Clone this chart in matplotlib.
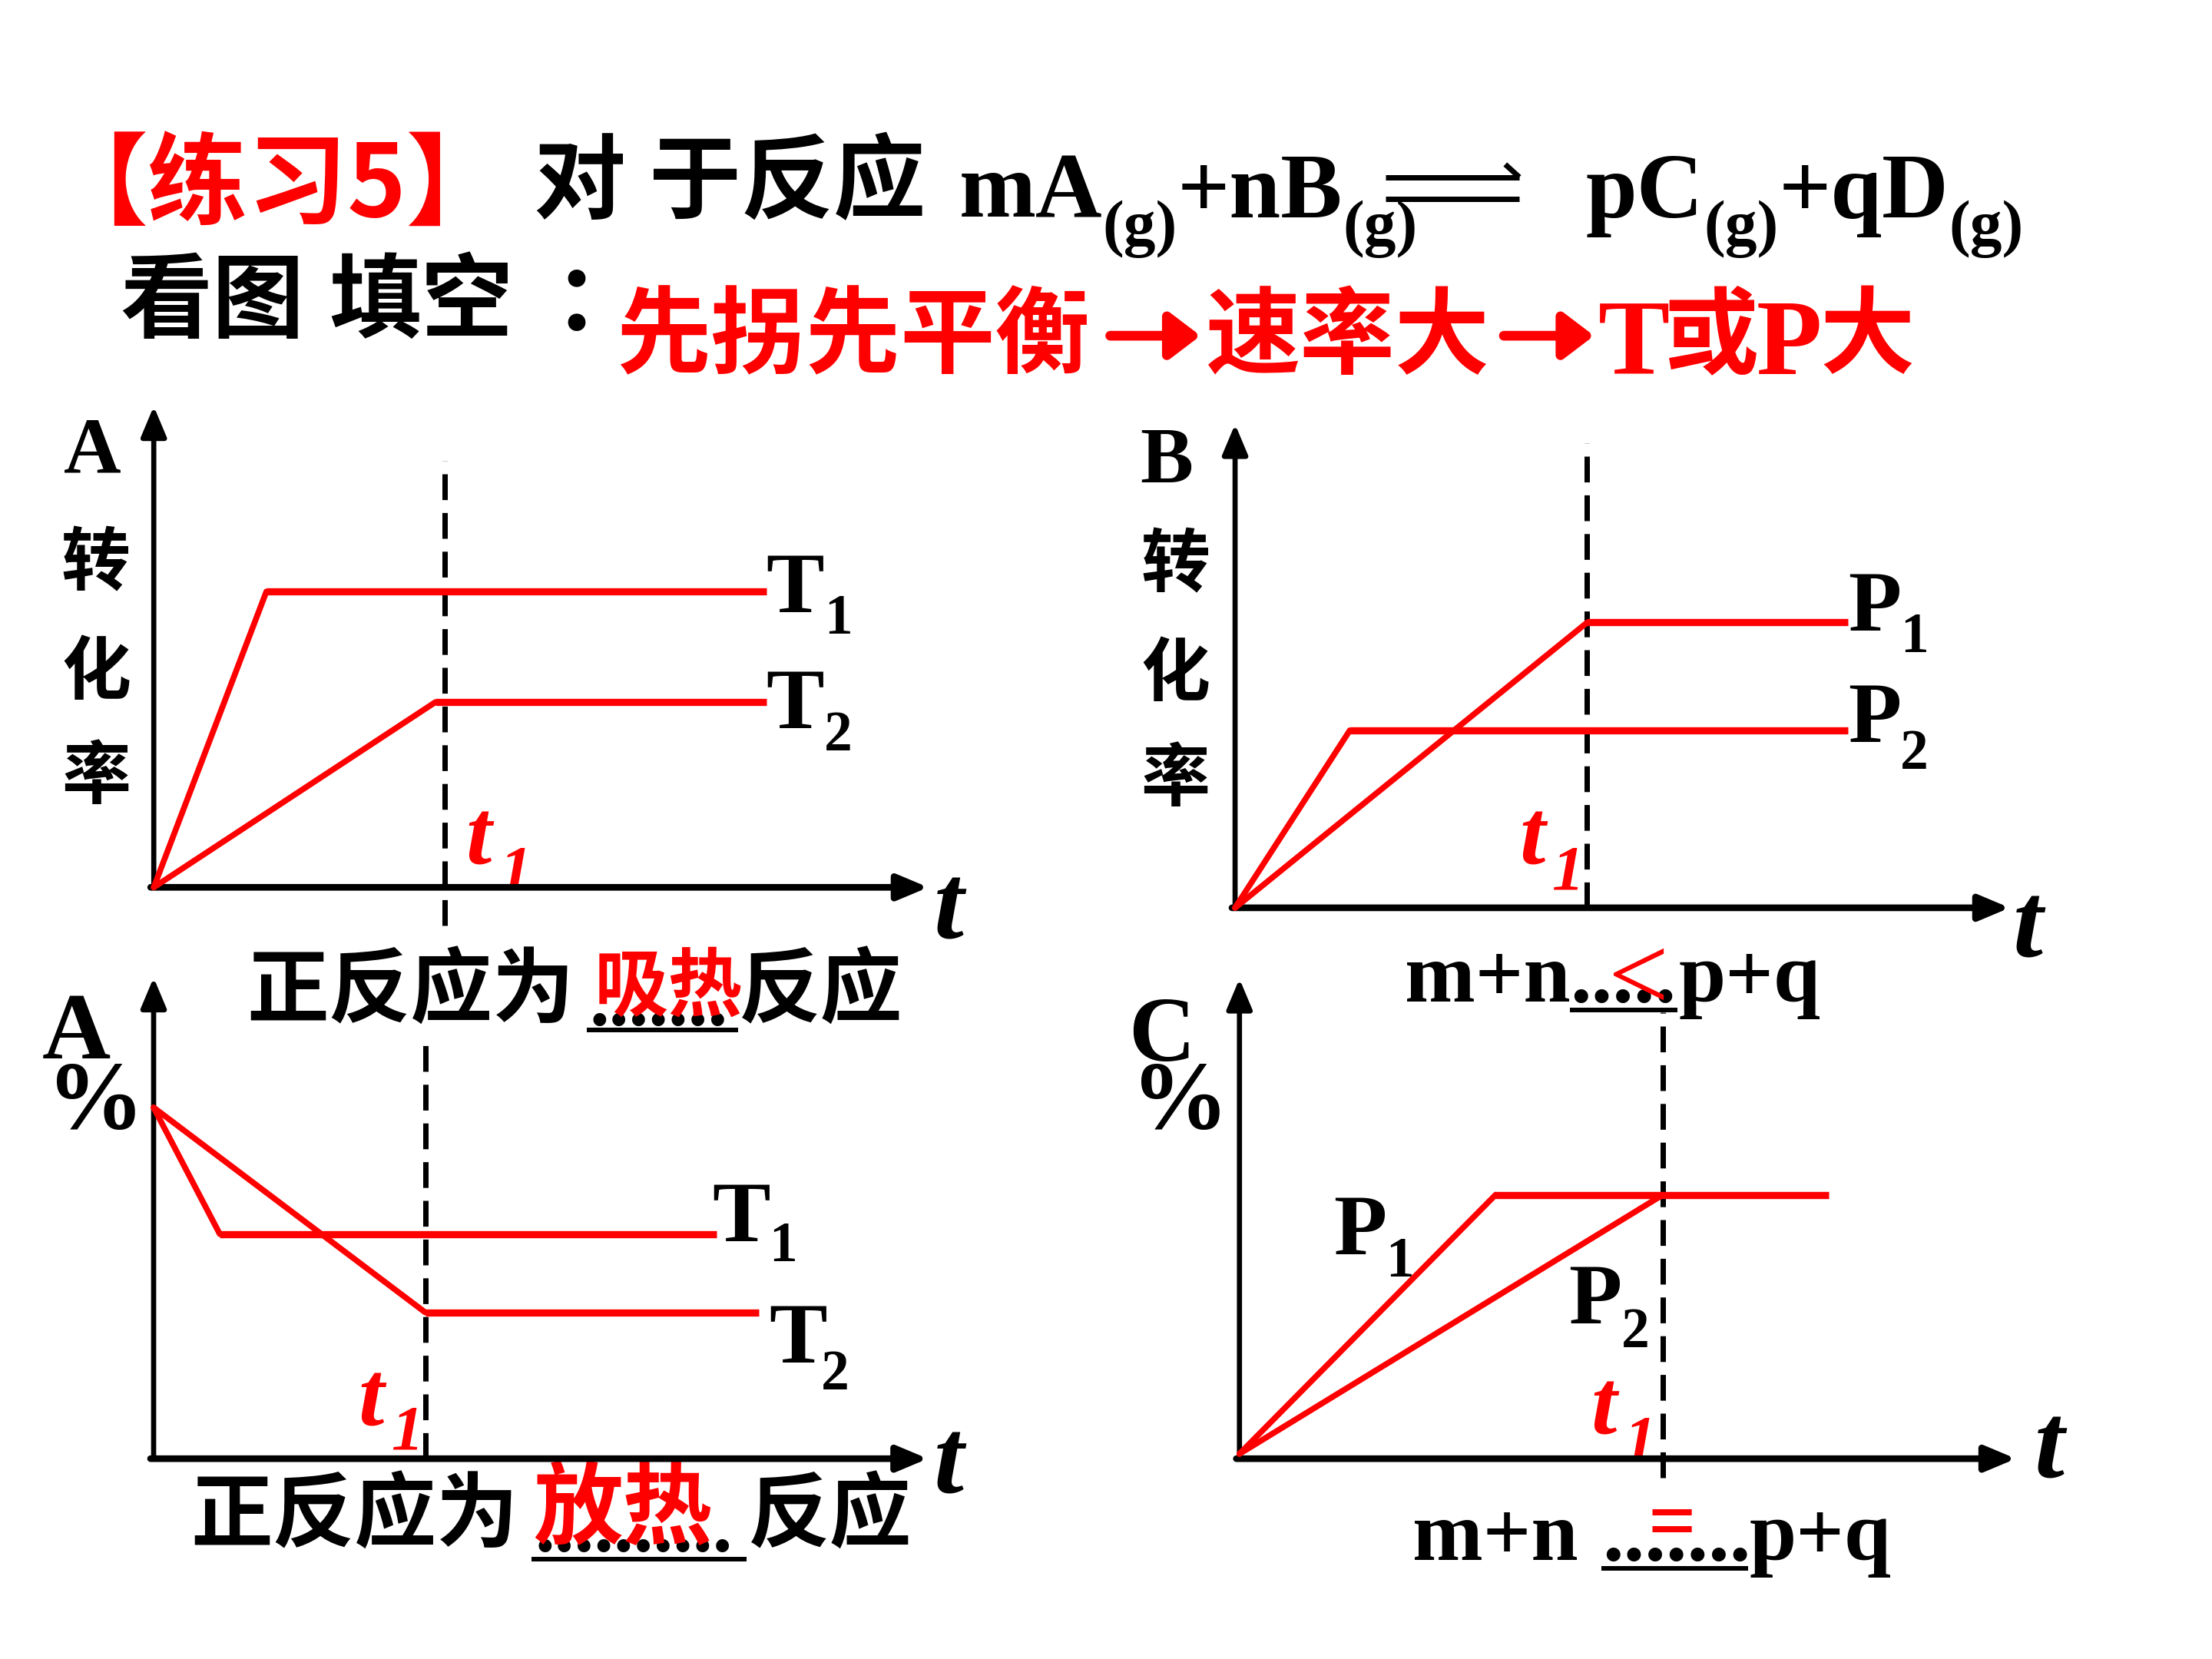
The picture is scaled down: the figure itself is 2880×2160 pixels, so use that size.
import matplotlib
matplotlib.use("Agg")
import matplotlib.pyplot as plt

# ---------------- data (schematic values) ----------------
# panel A: conversion of A vs t at T1 / T2
a_T1_t = [0, 1.6, 8.7]
a_T1_v = [0, 6.15, 6.15]
a_T2_t = [0, 4.0, 8.7]
a_T2_v = [0, 3.85, 3.85]
a_t1 = 4.13
# panel B: conversion of B vs t at P1 / P2
b_P1_t = [0, 5.0, 8.7]
b_P1_v = [0, 5.9, 5.9]
b_P2_t = [0, 1.63, 8.7]
b_P2_v = [0, 3.67, 3.67]
b_t1 = 5.0
# panel C: A% vs t at T1 / T2
c_T1_t = [0, 0.94, 8.0]
c_T1_v = [7.3, 4.67, 4.67]
c_T2_t = [0, 3.86, 8.6]
c_T2_v = [7.3, 3.04, 3.04]
c_t1 = 3.86
# panel D: C% vs t at P1 / P2
d_P1_t = [0, 3.63, 8.35]
d_P1_v = [0.1, 5.5, 5.5]
d_P2_t = [0, 6.0]
d_P2_v = [0.1, 5.5]
d_t1 = 6.0

RED = "#ff0000"
CJK = ["Noto Sans CJK SC", "DejaVu Sans"]
SERIF = ["Liberation Serif", "DejaVu Serif"]

W, H = 1568.0, 1176.0
fig = plt.figure(figsize=(12, 9), dpi=240)
fig.patch.set_facecolor("white")

bg = fig.add_axes([0, 0, 1, 1], zorder=0)
bg.set_xlim(0, W)
bg.set_ylim(H, 0)
bg.axis("off")


def txt(x, y, s, size, color="k", fam=SERIF, style="normal", ha="left", va="baseline",
        z=3, weight="bold"):
    return bg.text(x, y, s, fontsize=size, color=color, family=fam, fontweight=weight,
                   fontstyle=style, ha=ha, va=va, zorder=z)


def cjk(x, y, s, size, color="k", ha="left", z=3, weight="heavy"):
    return txt(x, y, s, size, color=color, fam=CJK, ha=ha, va="center", z=z, weight=weight)


def after(prev, y, s, size, color="k"):
    # place text directly to the right of a previous text, on baseline y
    return bg.annotate(s, xy=(1, y), xycoords=(prev, bg.transData), fontsize=size,
                       color=color, family=SERIF, fontweight="bold", ha="left",
                       va="baseline", zorder=3)


def arrow(x0, x1, y, color):
    bg.annotate("", xy=(x1, y), xytext=(x0, y), xycoords="data",
                arrowprops=dict(arrowstyle="-|>,head_length=0.5,head_width=0.38",
                                mutation_scale=20, lw=3.8, color=color,
                                shrinkA=0, shrinkB=0))


def panel(ox, oy, tx, ty):
    ax = fig.add_axes([ox / W, 1 - oy / H, (tx - ox) / W, (oy - ty) / H], zorder=2)
    ax.set_xlim(0, 11)
    ax.set_ylim(0, 10)
    ax.patch.set_alpha(0)
    for s in ax.spines.values():
        s.set_visible(False)
    ax.set_xticks([])
    ax.set_yticks([])
    ax.annotate("", xy=(1, 0), xytext=(-0.004, 0), xycoords="axes fraction",
                arrowprops=dict(arrowstyle="-|>,head_length=1.0,head_width=0.42",
                                lw=2.6, color="k", shrinkA=0, shrinkB=0))
    ax.annotate("", xy=(0, 1), xytext=(0, 0), xycoords="axes fraction",
                arrowprops=dict(arrowstyle="-|>,head_length=1.0,head_width=0.42",
                                lw=2.0, color="k", shrinkA=0, shrinkB=0))
    return ax


def curve(ax, t, v):
    ax.plot(t[:2], v[:2], color=RED, lw=2.3, solid_capstyle="round", zorder=4, clip_on=False)
    if len(t) > 2:
        ax.plot(t[1:], v[1:], color=RED, lw=2.8, solid_capstyle="butt", zorder=4, clip_on=False)


def dashed(ax, x, y0, y1):
    ax.plot([x, x], [y0, y1], color="k", lw=2.1, ls=(0, (4.8, 2.4)), zorder=3, clip_on=False)


# ---------------- title ----------------
cjk(34, 133, "【练习5】", 39, RED)
cjk(378, 131, "对", 36)
cjk(460, 131, "于反应", 36)
p = txt(680, 154, "mA", 36)
p = after(p, 173, "(g)", 25)
p = after(p, 154, "+nB", 36)
after(p, 173, "(g)", 25)
bg.plot([982, 1077], [125.6, 125.6], color="k", lw=2.1, solid_capstyle="butt")
bg.plot([1077, 1067], [125.6, 116.5], color="k", lw=2.1, solid_capstyle="butt")
bg.plot([982, 1077], [141, 141], color="k", lw=2.1, solid_capstyle="butt")
p = txt(1124, 154, "pC", 36)
p = after(p, 173, "(g)", 25)
p = after(p, 154, "+qD", 36)
after(p, 173, "(g)", 25)

cjk(85, 215, "看图", 36)
cjk(233, 215, "填空", 36)
cjk(392, 215, "：", 36)
cjk(437, 240, "先拐先平衡", 37, RED)
arrow(787, 851, 238, RED)
cjk(855, 240, "速率大", 37, RED)
arrow(1066, 1130, 238, RED)
txt(1133, 265, "T", 42, RED)
cjk(1180, 240, "或", 37, RED)
txt(1245, 265, "P", 42, RED)
cjk(1290, 240, "大", 37, RED)

# ---------------- panel A ----------------
axA = panel(109, 629, 658, 288)
curve(axA, a_T1_t, a_T1_v)
curve(axA, a_T2_t, a_T2_v)
dashed(axA, a_t1, -0.8, 8.87)
txt(45, 335, "A", 31)
for ch, yy in zip("转化率", [400, 477, 551]):
    cjk(68, yy, ch, 27, ha="center", weight="bold")
txt(543, 434, "T", 34)
txt(584, 449, "1", 22)
txt(543, 516, "T", 34)
txt(584, 532, "2", 22)
txt(330, 612, "t", 36, RED, style="italic")
txt(354, 630, "1", 25, RED, style="italic")
txt(662, 665, "t", 42, style="italic")
cjk(175, 703, "正反应为", 32)
txt(418, 727, ".......", 31, z=3)
cjk(421, 700, "吸热", 29, RED, z=4)
cjk(524, 703, "反应", 32)
bg.plot([416, 523], [730, 730], color="k", lw=1.8, solid_capstyle="butt")

# ---------------- panel B ----------------
axB = panel(875.5, 643.5, 1424.6, 300.7)
curve(axB, b_P1_t, b_P1_v)
curve(axB, b_P2_t, b_P2_v)
dashed(axB, b_t1, 0, 9.6)
txt(808, 342, "B", 31)
for ch, yy in zip("转化率", [401, 478, 553]):
    cjk(833, yy, ch, 27, ha="center", weight="bold")
txt(1310, 447, "P", 34)
txt(1347, 462, "1", 22)
txt(1310, 526, "P", 34)
txt(1347, 545, "2", 22)
txt(1077, 612, "t", 36, RED, style="italic")
txt(1100, 630, "1", 25, RED, style="italic")
txt(1427, 678, "t", 42, style="italic")
txt(996, 710, "m+n", 33)
txt(1113, 710, ".....", 33)
txt(1140, 716, "<", 42, RED, z=4, weight="normal")
txt(1190, 710, "p+q", 33)
bg.plot([1113, 1189], [716, 716], color="k", lw=1.8, solid_capstyle="butt")

# ---------------- panel C ----------------
axC = panel(108.9, 1034, 657.7, 693)
curve(axC, c_T1_t, c_T1_v)
curve(axC, c_T2_t, c_T2_v)
dashed(axC, c_t1, 0, 8.77)
txt(30, 750, "A", 37)
txt(33, 800, "%", 38)
txt(505, 880, "T", 34)
txt(545, 894, "1", 22)
txt(545, 966, "T", 34)
txt(582, 985, "2", 22)
txt(254, 1010, "t", 36, RED, style="italic")
txt(277, 1027, "1", 25, RED, style="italic")
txt(662, 1058, "t", 42, style="italic")
cjk(135, 1075, "正反应为", 32)
txt(379, 1100, "..........", 31)
cjk(378, 1071, "放热", 35, RED, z=4)
cjk(530, 1075, "反应", 32)
bg.plot([377, 529], [1105, 1105], color="k", lw=1.8, solid_capstyle="butt")

# ---------------- panel D ----------------
axD = panel(878.6, 1034, 1429, 693.8)
curve(axD, d_P1_t, d_P1_v)
curve(axD, d_P2_t, d_P2_v)
dashed(axD, d_t1, -0.4, 9.3)
txt(800, 752, "C", 36)
txt(802, 800, "%", 38)
txt(945, 889, "P", 34)
txt(982, 905, "1", 22)
txt(1112, 938, "P", 34)
txt(1149, 955, "2", 22)
txt(1128, 1016, "t", 36, RED, style="italic")
txt(1151, 1034, "1", 25, RED, style="italic")
txt(1442, 1047, "t", 42, style="italic")
txt(1001, 1106, "m+n", 33)
txt(1136, 1106, ".......", 33)
txt(1168, 1098, "=", 33, RED, z=4)
txt(1240, 1106, "p+q", 33)
bg.plot([1135, 1239], [1112, 1112], color="k", lw=1.8, solid_capstyle="butt")

fig.savefig("out.png", dpi=240, facecolor="white")
